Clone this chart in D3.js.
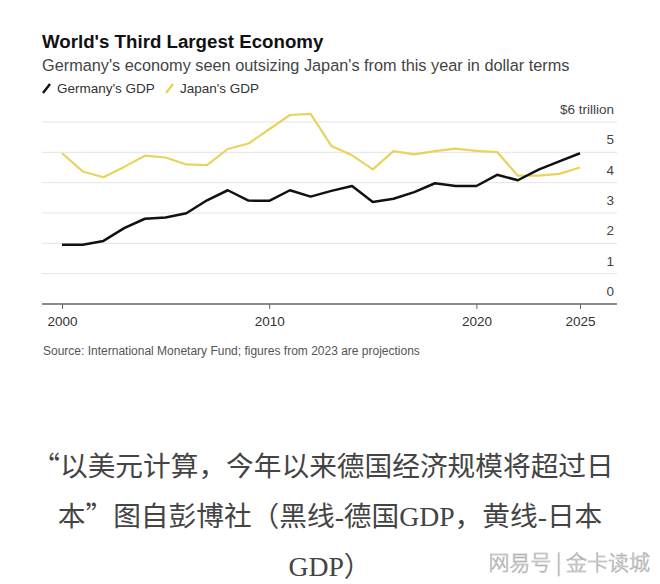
<!DOCTYPE html>
<html>
<head>
<meta charset="utf-8">
<script src="https://cdn.jsdelivr.net/npm/d3@7"></script>
<style>
  body { margin: 0; background: #fff; }
  svg { display: block; }
</style>
</head>
<body>
<div id="chart"></div>
<script>
// data (trillions of US dollars)
const years = d3.range(2000, 2026);
const germany = [1.95, 1.95, 2.08, 2.50, 2.81, 2.85, 2.99, 3.42, 3.75, 3.41, 3.40, 3.75, 3.54, 3.73, 3.89, 3.36, 3.47, 3.69, 3.98, 3.89, 3.89, 4.26, 4.08, 4.43, 4.70, 4.97];
const japan = [4.97, 4.37, 4.18, 4.52, 4.89, 4.83, 4.60, 4.58, 5.11, 5.29, 5.76, 6.23, 6.27, 5.21, 4.90, 4.44, 5.04, 4.93, 5.04, 5.12, 5.05, 5.01, 4.23, 4.23, 4.29, 4.50];
const yTicks = [0, 1, 2, 3, 4, 5, 6];
const xTicks = [2000, 2010, 2020, 2025];
const captionLines = [
  "“以美元计算，今年以来德国经济规模将超过日",
  "本”图自彭博社（黑线-德国GDP，黄线-日本",
  "GDP）"
];

const width = 660;
const height = 584;
const yellow = "#e9d35c";
const sans = "Liberation Sans, Arial, sans-serif";

const svg = d3.select("#chart")
  .append("svg")
  .attr("width", width)
  .attr("height", height);

svg.append("rect").attr("width", width).attr("height", height).attr("fill", "#fff");

const x = d3.scaleLinear()
  .domain([2000, 2025])
  .range([62, 580]);

const y = d3.scaleLinear()
  .domain([0, 6])
  .range([304, 122]);

// titles
svg.append("text")
  .attr("x", 42).attr("y", 48)
  .attr("font-family", sans)
  .attr("font-weight", "bold")
  .attr("font-size", 18.7)
  .attr("fill", "#111")
  .text("World's Third Largest Economy");

svg.append("text")
  .attr("x", 42).attr("y", 70.5)
  .attr("font-family", sans)
  .attr("font-size", 16.3)
  .attr("fill", "#444")
  .text("Germany's economy seen outsizing Japan's from this year in dollar terms");

// legend
const legend = [
  { name: "Germany's GDP", color: "#111", x: 42 },
  { name: "Japan's GDP", color: yellow, x: 165 }
];
legend.forEach(d => {
  svg.append("line")
    .attr("x1", d.x + 1).attr("y1", 93)
    .attr("x2", d.x + 8).attr("y2", 84)
    .attr("stroke", d.color)
    .attr("stroke-width", 2.4);
  svg.append("text")
    .attr("x", d.x + 15).attr("y", 93)
    .attr("font-family", sans)
    .attr("font-size", 13.5)
    .attr("fill", "#333")
    .text(d.name);
});

// gridlines + right labels
svg.append("g")
  .selectAll("line")
  .data(yTicks.filter(d => d > 0))
  .enter()
  .append("line")
  .attr("x1", 42).attr("x2", 617)
  .attr("y1", d => y(d)).attr("y2", d => y(d))
  .attr("stroke", "#e4e4e4")
  .attr("stroke-width", 1);

svg.append("g")
  .selectAll("text")
  .data(yTicks)
  .enter()
  .append("text")
  .attr("x", 614)
  .attr("y", d => y(d) - 8)
  .attr("text-anchor", "end")
  .attr("font-family", sans)
  .attr("font-size", 13.5)
  .attr("fill", "#444")
  .text(d => d === 6 ? "$6 trillion" : d);

// x axis
const xAxis = svg.append("g")
  .attr("transform", `translate(0,${y(0)})`)
  .call(d3.axisBottom(x).tickValues(xTicks).tickFormat(d3.format("d")).tickSize(5).tickSizeOuter(0));
xAxis.select(".domain").remove();
xAxis.append("line")
  .attr("x1", 42).attr("x2", 617)
  .attr("stroke", "#666").attr("stroke-width", 1.3);
xAxis.selectAll(".tick line").attr("stroke", "#666");
xAxis.selectAll(".tick text")
  .attr("font-family", sans)
  .attr("font-size", 13.5)
  .attr("fill", "#333")
  .attr("dy", "1.05em");

// lines
const line = d3.line()
  .x((d, i) => x(years[i]))
  .y(d => y(d));

svg.append("path")
  .datum(japan)
  .attr("d", line)
  .attr("fill", "none")
  .attr("stroke", yellow)
  .attr("stroke-width", 2.2)
  .attr("stroke-linejoin", "round");

svg.append("path")
  .datum(germany)
  .attr("d", line)
  .attr("fill", "none")
  .attr("stroke", "#111")
  .attr("stroke-width", 2.5)
  .attr("stroke-linejoin", "round");

// source
svg.append("text")
  .attr("x", 43).attr("y", 355)
  .attr("font-family", sans)
  .attr("font-size", 12)
  .attr("fill", "#555")
  .text("Source: International Monetary Fund; figures from 2023 are projections");

// chinese caption: quotes taken from the CJK font so they are full width
const caption = svg.append("g")
  .selectAll("text")
  .data(captionLines)
  .enter()
  .append("text")
  .attr("x", (d, i) => i === 0 ? 323 : 330)
  .attr("y", (d, i) => 476 + i * 50)
  .attr("text-anchor", "middle")
  .attr("font-family", "Liberation Serif, Noto Sans CJK SC, serif")
  .attr("font-size", 27.7)
  .attr("fill", "#444");

caption.each(function (d) {
  const t = d3.select(this);
  d.split(/([“”])/).filter(s => s.length).forEach(s => {
    const span = t.append("tspan").text(s);
    if (s === "“" || s === "”") span.attr("font-family", "Noto Sans CJK SC, sans-serif");
  });
});

// watermark
svg.append("text")
  .attr("x", 650).attr("y", 570)
  .attr("text-anchor", "end")
  .attr("font-family", "Noto Sans CJK SC, sans-serif")
  .attr("font-weight", 300)
  .attr("font-size", 21)
  .attr("fill", "#f2f2f2")
  .attr("stroke", "#a8a8a8")
  .attr("stroke-width", 0.6)
  .text("网易号 | 金卡读城");
</script>
</body>
</html>
